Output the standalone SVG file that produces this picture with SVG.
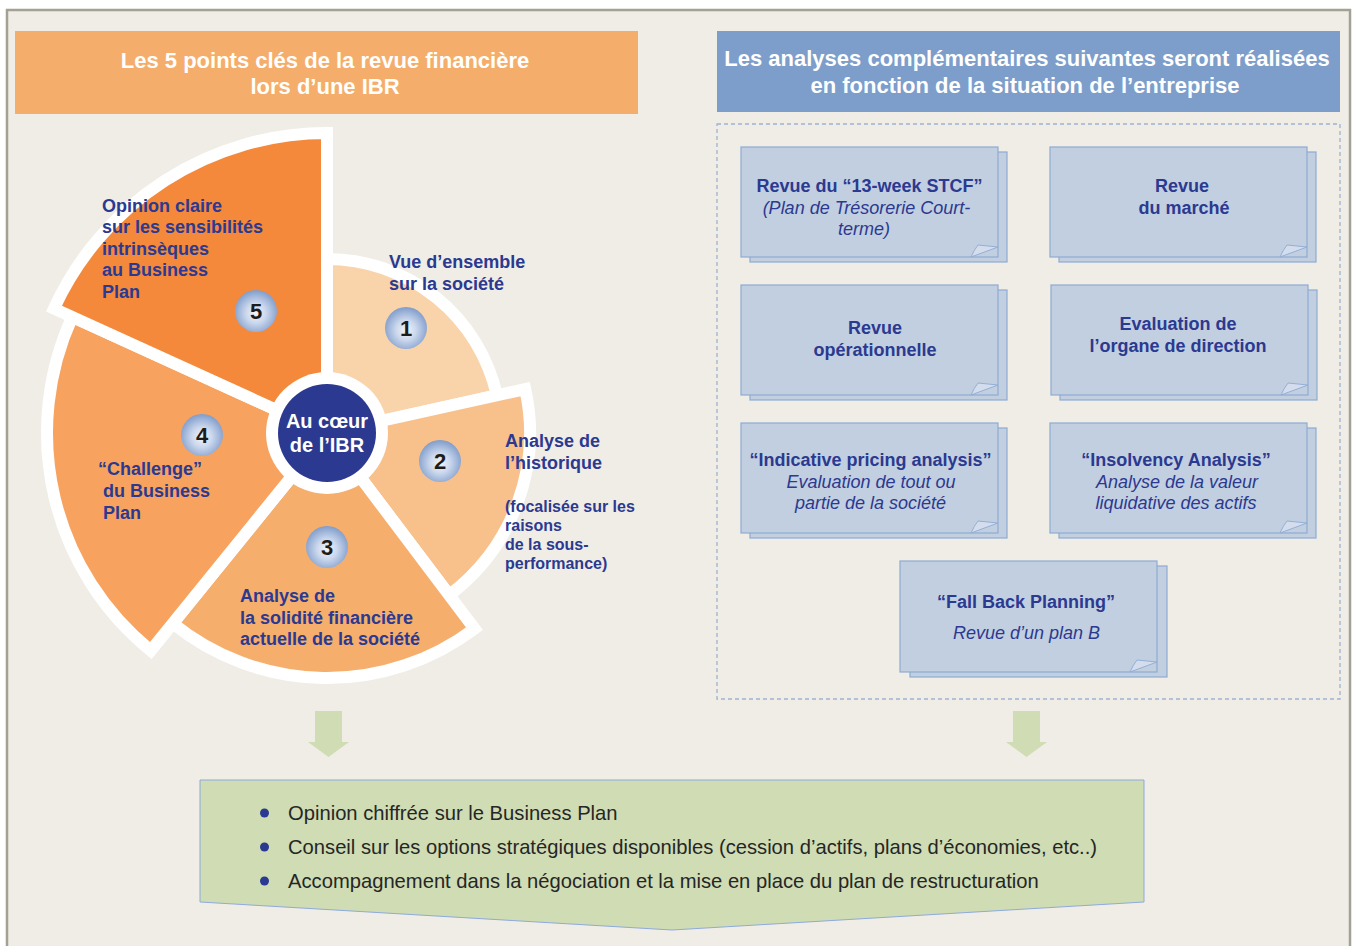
<svg xmlns="http://www.w3.org/2000/svg" width="1354" height="946" viewBox="0 0 1354 946">
  <defs>
    <style>
      .hdr { font-family: "Liberation Sans", Arial, sans-serif; font-weight: bold; font-size: 22px; fill: #ffffff; text-anchor: middle; }
      .pie { font-family: "Liberation Sans", Arial, sans-serif; font-weight: bold; font-size: 18px; fill: #2b3990; }
      .pie-sm { font-family: "Liberation Sans", Arial, sans-serif; font-weight: bold; font-size: 16px; fill: #2b3990; }
      .core { font-family: "Liberation Sans", Arial, sans-serif; font-weight: bold; font-size: 20px; fill: #ffffff; text-anchor: middle; }
      .num { font-family: "Liberation Sans", Arial, sans-serif; font-weight: bold; font-size: 22px; fill: #1c1c1c; text-anchor: middle; }
      .sector { stroke: #ffffff; stroke-width: 12; stroke-linejoin: miter; }
      .card-back { fill: #c2cfe0; stroke: #8eaad2; stroke-width: 1.2; }
      .card { fill: #c2cfe0; stroke: #8eaad2; stroke-width: 1.2; }
      .curl { fill: #d4dded; stroke: #8eaad2; stroke-width: 0.9; }
      .ct { font-family: "Liberation Sans", Arial, sans-serif; font-weight: bold; font-size: 18px; fill: #2b3990; text-anchor: middle; }
      .ci { font-family: "Liberation Sans", Arial, sans-serif; font-style: italic; font-size: 18px; fill: #2b3990; text-anchor: middle; }
      .bt { font-family: "Liberation Sans", Arial, sans-serif; font-size: 20.2px; fill: #262626; }
      .arrow { fill: #cfdcb4; }
    </style>
    <radialGradient id="sphere" cx="50%" cy="55%" r="55%">
      <stop offset="0" stop-color="#f4f6fb"/>
      <stop offset="0.45" stop-color="#c9d6ec"/>
      <stop offset="1" stop-color="#7f9ccb"/>
    </radialGradient>
    <!-- small folded corner at a card's bottom right, relative to that corner -->
    <path id="curl" d="M-27,0 Q-24,-7 -20,-12 L0,-10 Z"/>
  </defs>

  <!-- page -->
  <rect x="0" y="0" width="1354" height="946" fill="#ffffff"/>
  <rect x="7" y="10" width="1343" height="945" fill="#f0ede6" stroke="#a3a194" stroke-width="2.5"/>

  <!-- headers -->
  <g id="header-left">
    <rect x="15" y="31" width="623" height="83" fill="#f5ad6b"/>
    <text class="hdr" x="325" y="68">Les 5 points clés de la revue financière</text>
    <text class="hdr" x="325" y="94">lors d’une IBR</text>
  </g>
  <g id="header-right">
    <rect x="717" y="31" width="623" height="81" fill="#7d9dca"/>
    <text class="hdr" x="1027" y="66">Les analyses complémentaires suivantes seront réalisées</text>
    <text class="hdr" x="1025" y="93">en fonction de la situation de l’entreprise</text>
  </g>

  <!-- pie of the five key points -->
  <g id="pie">
    <path id="sector-1" class="sector" fill="#f9d3aa" d="M327,433 L327,259 A174,174 0 0 1 496.88,395.34 Z"/>
    <path id="sector-2" class="sector" fill="#f8c08a" d="M327,433 L525.19,389.06 A203,203 0 0 1 449.17,595.12 Z"/>
    <path id="sector-3" class="sector" fill="#f6ae6d" d="M327,433 L474.45,628.67 A245,245 0 0 1 172.82,623.40 Z"/>
    <path id="sector-4" class="sector" fill="#f7a35f" d="M327,433 L150.79,650.60 A280,280 0 0 1 72.21,316.89 Z"/>
    <path id="sector-5" class="sector" fill="#f4893c" d="M327,433 L54.01,308.59 A300,300 0 0 1 327,133 Z"/>
  </g>

  <g id="core">
    <circle cx="327" cy="433" r="61" fill="#ffffff"/>
    <circle cx="327" cy="433" r="49" fill="#2b3990"/>
    <text class="core" x="327" y="428">Au cœur</text>
    <text class="core" x="327" y="452">de l’IBR</text>
  </g>

  <g id="point-1">
    <text class="pie" x="389" y="268">Vue d’ensemble</text>
    <text class="pie" x="389" y="290">sur la société</text>
    <circle cx="406" cy="328" r="21" fill="url(#sphere)"/>
    <text class="num" x="406" y="336">1</text>
  </g>

  <g id="point-2">
    <text class="pie" x="505" y="447">Analyse de</text>
    <text class="pie" x="505" y="469">l’historique</text>
    <text class="pie-sm" x="505" y="512">(focalisée sur les</text>
    <text class="pie-sm" x="505" y="531">raisons</text>
    <text class="pie-sm" x="505" y="550">de la sous-</text>
    <text class="pie-sm" x="505" y="569">performance)</text>
    <circle cx="440" cy="461" r="21" fill="url(#sphere)"/>
    <text class="num" x="440" y="469">2</text>
  </g>

  <g id="point-3">
    <text class="pie" x="240" y="602">Analyse de</text>
    <text class="pie" x="240" y="623.5">la solidité financière</text>
    <text class="pie" x="240" y="645">actuelle de la société</text>
    <circle cx="327" cy="547" r="21" fill="url(#sphere)"/>
    <text class="num" x="327" y="555">3</text>
  </g>

  <g id="point-4">
    <text class="pie" x="98" y="475">“Challenge”</text>
    <text class="pie" x="103" y="497">du Business</text>
    <text class="pie" x="103" y="518.5">Plan</text>
    <circle cx="202" cy="435" r="21" fill="url(#sphere)"/>
    <text class="num" x="202" y="443">4</text>
  </g>

  <g id="point-5">
    <text class="pie" x="102" y="211.5">Opinion claire</text>
    <text class="pie" x="102" y="233">sur les sensibilités</text>
    <text class="pie" x="102" y="254.5">intrinsèques</text>
    <text class="pie" x="102" y="276">au Business</text>
    <text class="pie" x="102" y="297.5">Plan</text>
    <circle cx="256" cy="311" r="21" fill="url(#sphere)"/>
    <text class="num" x="256" y="319">5</text>
  </g>

  <!-- complementary analyses -->
  <rect id="analyses-frame" x="717" y="124" width="623" height="575" fill="none" stroke="#9db2d2" stroke-width="1.3" stroke-dasharray="4 3"/>

  <g id="card-stcf">
    <rect class="card-back" x="750" y="152" width="257" height="110"/>
    <rect class="card" x="741" y="147" width="257" height="110"/>
    <use href="#curl" class="curl" x="998" y="257"/>
    <text class="ct" x="869.5" y="192">Revue du “13-week STCF”</text>
    <text class="ci" x="866.5" y="214">(Plan de Trésorerie Court-</text>
    <text class="ci" x="864" y="235">terme)</text>
  </g>

  <g id="card-marche">
    <rect class="card-back" x="1059" y="152" width="257" height="110"/>
    <rect class="card" x="1050" y="147" width="257" height="110"/>
    <use href="#curl" class="curl" x="1307" y="257"/>
    <text class="ct" x="1182" y="192">Revue</text>
    <text class="ct" x="1184" y="214">du marché</text>
  </g>

  <g id="card-operationnelle">
    <rect class="card-back" x="750" y="290" width="257" height="110"/>
    <rect class="card" x="741" y="285" width="257" height="110"/>
    <use href="#curl" class="curl" x="998" y="395"/>
    <text class="ct" x="875" y="334">Revue</text>
    <text class="ct" x="875" y="356">opérationnelle</text>
  </g>

  <g id="card-direction">
    <rect class="card-back" x="1060" y="290" width="257" height="110"/>
    <rect class="card" x="1051" y="285" width="257" height="110"/>
    <use href="#curl" class="curl" x="1308" y="395"/>
    <text class="ct" x="1178" y="330">Evaluation de</text>
    <text class="ct" x="1178" y="352">l’organe de direction</text>
  </g>

  <g id="card-pricing">
    <rect class="card-back" x="750" y="428" width="257" height="110"/>
    <rect class="card" x="741" y="423" width="257" height="110"/>
    <use href="#curl" class="curl" x="998" y="533"/>
    <text class="ct" x="870.5" y="466">“Indicative pricing analysis”</text>
    <text class="ci" x="871" y="488">Evaluation de tout ou</text>
    <text class="ci" x="870.5" y="509">partie de la société</text>
  </g>

  <g id="card-insolvency">
    <rect class="card-back" x="1059" y="428" width="257" height="110"/>
    <rect class="card" x="1050" y="423" width="257" height="110"/>
    <use href="#curl" class="curl" x="1307" y="533"/>
    <text class="ct" x="1176" y="466">“Insolvency Analysis”</text>
    <text class="ci" x="1177" y="488">Analyse de la valeur</text>
    <text class="ci" x="1176" y="509">liquidative des actifs</text>
  </g>

  <g id="card-fallback">
    <rect class="card-back" x="910" y="566" width="257" height="111"/>
    <rect class="card" x="900" y="561" width="257" height="111"/>
    <use href="#curl" class="curl" x="1157" y="672"/>
    <text class="ct" x="1026" y="608">“Fall Back Planning”</text>
    <text class="ci" x="1026.5" y="639">Revue d’un plan B</text>
  </g>

  <!-- connectors -->
  <g id="connectors">
    <polygon class="arrow" points="315,711 342,711 342,742 349,742 328.5,757 308,742 315,742"/>
    <polygon class="arrow" points="1013,711 1040,711 1040,742 1047,742 1026.5,757 1006,742 1013,742"/>
  </g>

  <!-- outcome -->
  <g id="outcome">
    <polygon points="200,780 1144,780 1144,902 672,930 200,902" fill="#cfdcb4" stroke="#8eaadb" stroke-width="1"/>
    <circle cx="264.5" cy="813" r="4.5" fill="#2b3990"/>
    <circle cx="264.5" cy="847" r="4.5" fill="#2b3990"/>
    <circle cx="264.5" cy="881" r="4.5" fill="#2b3990"/>
    <text class="bt" x="288" y="820">Opinion chiffrée sur le Business Plan</text>
    <text class="bt" x="288" y="854">Conseil sur les options stratégiques disponibles (cession d’actifs, plans d’économies, etc..)</text>
    <text class="bt" x="288" y="888">Accompagnement dans la négociation et la mise en place du plan de restructuration</text>
  </g>
</svg>
